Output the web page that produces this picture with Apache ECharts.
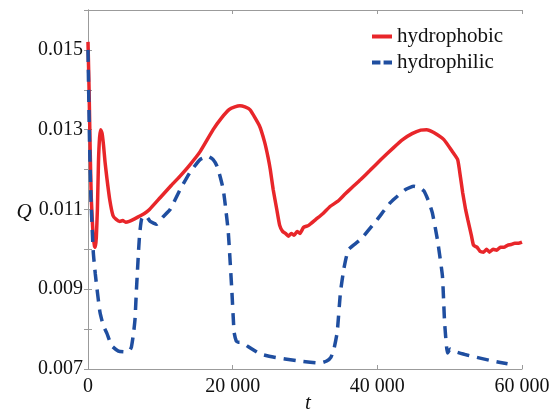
<!DOCTYPE html>
<html>
<head>
<meta charset="utf-8">
<script src="https://cdn.jsdelivr.net/npm/echarts@6/dist/echarts.min.js"></script>
<style>html,body{margin:0;padding:0;background:#fff}#c{width:552px;height:412px}</style>
</head>
<body>
<div id="c"></div>
<script>
const seriesNames = ['hydrophobic', 'hydrophilic'];
const xTicks = [0, 20000, 40000, 60000];
const yTickLabels = ['0.007', '0.009', '0.011', '0.013', '0.015'];
const yTitle = 'Q';
const xTitle = 't';

const hydrophobicT = [0,150,300,450,690,900,1020,1150,1300,1450,1600,1760,1950,2150,2350,2600,3000,3450,3900,4400,4800,5200,5700,6300,7100,7800,8500,10000,11500,12700,14000,15500,17300,18500,19500,20300,21000,21700,22400,23700,24400,24900,25200,25600,26100,26500,26900,27300,27700,28100,28500,28900,29300,29800,30500,31500,32500,33500,34500,35500,36500,37700,39000,40500,42250,43500,44800,46000,46800,47800,49200,50300,51100,51500,51800,52200,52500,53000,53300,53800,54200,54700,55100,55500,56000,56500,57000,57500,58000,58500,59000,59500,60000];
const hydrophobicQ = [0.0152,0.0140,0.0125,0.0113,0.0104,0.01008,0.01005,0.0103,0.0110,0.0122,0.0128,0.0130,0.0129,0.0126,0.0122,0.0118,0.01125,0.01085,0.01075,0.0107,0.01072,0.01068,0.0107,0.01075,0.01083,0.0109,0.0110,0.0113,0.0116,0.01183,0.0121,0.01245,0.0130,0.0133,0.0135,0.01357,0.0136,0.01357,0.0135,0.0131,0.0127,0.0123,0.0120,0.0115,0.0110,0.0106,0.01045,0.0104,0.01033,0.0104,0.01035,0.01045,0.0104,0.01055,0.0106,0.01075,0.0109,0.01108,0.0112,0.01138,0.01155,0.01175,0.01198,0.01225,0.01255,0.01275,0.0129,0.01299,0.0130,0.01293,0.01275,0.01247,0.01225,0.0118,0.01142,0.0110,0.01075,0.01035,0.0101,0.01005,0.00995,0.00993,0.0100,0.00993,0.0100,0.00998,0.01005,0.01005,0.0101,0.01012,0.01015,0.01015,0.01018];

const hydrophilicT = [0,200,400,730,1000,1250,1650,2100,2600,3300,4200,5100,5700,6000,6300,6500,6700,6850,7000,7150,7400,7800,8200,8600,9500,10300,11350,12740,14100,15500,16600,17300,17850,18300,18700,19000,19400,19900,20200,20500,20800,21300,22000,23800,25600,28900,32100,33000,33600,34000,34450,34900,35360,35700,36050,37700,40000,41800,43900,45050,45800,46450,47100,47600,48300,49000,49300,49700,50100,50500,52400,55700,58000];
const hydrophilicQ = [0.0150,0.0128,0.0113,0.00993,0.0094,0.0090,0.00843,0.0081,0.0079,0.00758,0.00745,0.00743,0.00745,0.00755,0.0079,0.00825,0.0090,0.0095,0.0100,0.0104,0.01075,0.01085,0.0108,0.0107,0.01063,0.0108,0.0110,0.0115,0.01193,0.01225,0.01233,0.01225,0.01208,0.0118,0.0115,0.01108,0.01042,0.00892,0.00792,0.0077,0.00767,0.00767,0.00758,0.00738,0.0073,0.00721,0.00715,0.0072,0.0073,0.0075,0.00792,0.00892,0.0095,0.0098,0.0100,0.01025,0.01075,0.01117,0.0115,0.01158,0.01155,0.01146,0.0112,0.01092,0.01025,0.00933,0.00817,0.0074,0.0075,0.00745,0.00735,0.00721,0.00713];

function pairs(t, q) { return t.map((v, i) => [v, q[i]]); }

const font = "'Liberation Serif', 'Times New Roman', serif";
const axisGray = '#9b9b9b';
const redColor = '#e8262a';
const blueColor = '#1f4ea0';
const chart = echarts.init(document.getElementById('c'), null, {renderer: 'canvas'});

chart.setOption({
  animation: false,
  backgroundColor: '#ffffff',
  grid: {left: 88, right: 30, top: 10, bottom: 43, containLabel: false, outerBoundsMode: 'none'},
  graphic: [{
    type: 'text', x: 24, y: 212, silent: true,
    style: {text: yTitle, fontFamily: font, fontSize: 21, fontStyle: 'italic', fill: '#111',
      align: 'center', verticalAlign: 'middle'}
  }],
  legend: {
    orient: 'vertical', left: 367, top: 21,
    itemWidth: 20, itemHeight: 4, itemGap: 5, symbolKeepAspect: false,
    textStyle: {fontFamily: font, fontSize: 21, color: '#111'},
    data: [
      {name: seriesNames[0], icon: 'path://M0,0H20V4H0Z', itemStyle: {color: redColor}},
      {name: seriesNames[1], icon: 'path://M0,0H8V4H0Z M11,0H19V4H11Z', itemStyle: {color: blueColor}}
    ]
  },
  xAxis: [{
    type: 'value', min: 0, max: 60000, interval: 20000, position: 'bottom',
    name: xTitle, nameLocation: 'middle', nameGap: 24, nameMoveOverlap: false,
    nameTextStyle: {fontFamily: font, fontSize: 21, fontStyle: 'italic', color: '#111', padding: [0, 0, 0, 6]},
    axisLine: {show: true, lineStyle: {color: axisGray, width: 1}},
    axisTick: {show: true, inside: true, length: 4, lineStyle: {color: axisGray}},
    axisLabel: {fontFamily: font, fontSize: 20, color: '#111', margin: 8,
      formatter: v => xTicks.includes(v) ? (v === 0 ? '0' : (v / 1000) + ' 000') : ''},
    splitLine: {show: false}
  }, {
    type: 'value', min: 0, max: 60000, interval: 20000, position: 'top',
    axisLine: {show: true, lineStyle: {color: axisGray, width: 1}},
    axisTick: {show: true, inside: true, length: 4, lineStyle: {color: axisGray}},
    axisLabel: {show: false}, splitLine: {show: false}
  }],
  yAxis: [{
    type: 'value', min: 0.007, max: 0.016, interval: 0.001, position: 'left',
    axisLine: {show: true, lineStyle: {color: axisGray, width: 1}},
    axisTick: {show: true, inside: true, length: 4, lineStyle: {color: axisGray}},
    axisLabel: {fontFamily: font, fontSize: 20, color: '#111', margin: 5,
      formatter: v => { const s = v.toFixed(3); return yTickLabels.includes(s) ? s : ''; }},
    splitLine: {show: false}
  }, {
    type: 'value', min: 0.007, max: 0.016, interval: 0.001, position: 'right',
    axisLine: {show: true, lineStyle: {color: axisGray, width: 1}},
    axisTick: {show: true, inside: true, length: 4, lineStyle: {color: axisGray}},
    axisLabel: {show: false}, splitLine: {show: false}
  }],
  series: [{
    name: seriesNames[0], type: 'line', symbol: 'none', smooth: 0.15,
    xAxisIndex: 0, yAxisIndex: 0,
    lineStyle: {color: redColor, width: 3.5},
    itemStyle: {color: redColor},
    data: pairs(hydrophobicT, hydrophobicQ), z: 2
  }, {
    name: seriesNames[1], type: 'line', symbol: 'none', smooth: 0.15,
    xAxisIndex: 0, yAxisIndex: 0,
    lineStyle: {color: blueColor, width: 3.5, type: [12, 8], cap: 'butt'},
    itemStyle: {color: blueColor},
    data: pairs(hydrophilicT, hydrophilicQ), z: 3
  }]
});
</script>
</body>
</html>
